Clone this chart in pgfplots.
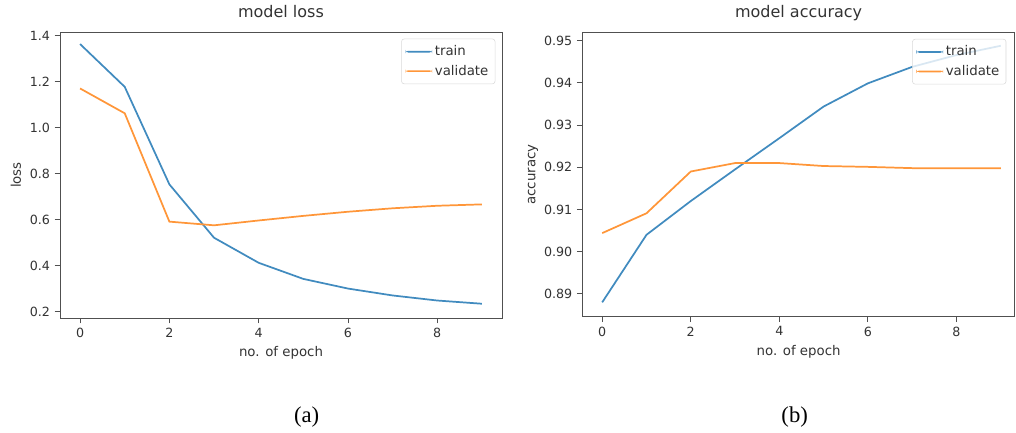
\documentclass[border=0pt]{standalone}
\usepackage{fontspec}
\setmainfont{DejaVu Sans}
\newfontfamily\serifab{Liberation Serif}
\usepackage{pgfplots}
\pgfplotsset{compat=1.18}
\definecolor{tabblue}{HTML}{1F77B4}
\definecolor{taborange}{HTML}{FF7F0E}
\colorlet{lblue}{tabblue!85!white}
\colorlet{lorange}{taborange!82!white}
\definecolor{axgray}{HTML}{505050}
\definecolor{txtgray}{HTML}{333333}

\pgfplotsset{
  legend image code/.code={\fill[#1, draw=none, fill opacity=1] (0pt,-0.65pt) rectangle (20pt,0.65pt);},
  mystyle/.style={
  scale only axis,
  anchor=south west,
  axis line style={axgray, line width=0.7pt},
  tick align=outside,
  xtick pos=bottom, ytick pos=left,
  major tick length=4pt,
  tick style={axgray, line width=0.7pt},
  every tick label/.append style={font=\fontsize{9.5}{11}\selectfont, text=txtgray},
  label style={font=\fontsize{10}{12}\selectfont, text=txtgray},
  /pgf/number format/assume math mode=true,
  xmin=-0.45,
  xtick={0,2,4,6,8},
  xlabel={no. of epoch},
  legend style={at={(1,1)}, anchor=north east, xshift=-5pt, yshift=-5pt,
    draw=black!15, rounded corners=2pt, font=\fontsize{10}{12}\selectfont,
    text=txtgray, row sep=1.5pt, inner sep=3pt, fill=white, fill opacity=0.8, draw opacity=1, text opacity=1},
  legend cell align=left,
  every axis plot/.append style={line width=1.3pt, mark=none},
}}

\begin{document}
\begin{tikzpicture}
\path[use as bounding box] (0,0) rectangle (762pt,324pt);

\begin{axis}[mystyle,
  at={(45pt,85.5pt)}, width=331.5pt, height=214.5pt,
  xmax=9.45, ymin=0.173, ymax=1.4165,
  ytick={0.2,0.4,0.6,0.8,1.0,1.2,1.4},
  yticklabel style={/pgf/number format/.cd, fixed, fixed zerofill, precision=1},
  ylabel={loss},
  title={model loss},
  title style={at={(axis description cs:0.5,1.0443)}, anchor=center, yshift=0pt, font=\fontsize{12}{14}\selectfont, text=txtgray},
  xlabel style={at={(axis description cs:0.5,-0.1212)}, anchor=center},
  ylabel style={at={(axis description cs:-0.0995,0.5)}, anchor=center},
]
\addplot[lblue] coordinates {(0,1.364) (1,1.178) (2,0.754) (3,0.522) (4,0.413) (5,0.343) (6,0.301) (7,0.271) (8,0.249) (9,0.235)};
\addlegendentry{train}
\addplot[lorange] coordinates {(0,1.171) (1,1.063) (2,0.592) (3,0.576) (4,0.597) (5,0.617) (6,0.635) (7,0.650) (8,0.661) (9,0.667)};
\addlegendentry{validate}
\end{axis}

\begin{axis}[mystyle,
  at={(436.7pt,86.5pt)}, width=324.5pt, height=213.3pt,
  xmax=9.32, ymin=0.8846, ymax=0.952,
  ytick={0.89,0.90,0.91,0.92,0.93,0.94,0.95},
  yticklabel style={/pgf/number format/.cd, fixed, fixed zerofill, precision=2},
  ylabel={accuracy},
  title={model accuracy},
  title style={at={(axis description cs:0.5,1.041)}, anchor=center, yshift=0pt, font=\fontsize{12}{14}\selectfont, text=txtgray},
  xlabel style={at={(axis description cs:0.5,-0.1219)}, anchor=center},
  ylabel style={at={(axis description cs:-0.114,0.5)}, anchor=center},
  legend style={xshift=-1.5pt},
]
\addplot[lblue] coordinates {(0,0.888) (1,0.904) (2,0.912) (3,0.9195) (4,0.9269) (5,0.9344) (6,0.9399) (7,0.9438) (8,0.9466) (9,0.9488)};
\addlegendentry{train}
\addplot[lorange] coordinates {(0,0.9044) (1,0.9091) (2,0.919) (3,0.921) (4,0.921) (5,0.9203) (6,0.9201) (7,0.9198) (8,0.9198) (9,0.9198)};
\addlegendentry{validate}
\end{axis}

\node[font=\serifab\fontsize{17}{20}\selectfont] at (230pt,11.25pt) {(a)};
\node[font=\serifab\fontsize{17}{20}\selectfont] at (596pt,11.25pt) {(b)};
\end{tikzpicture}
\end{document}
